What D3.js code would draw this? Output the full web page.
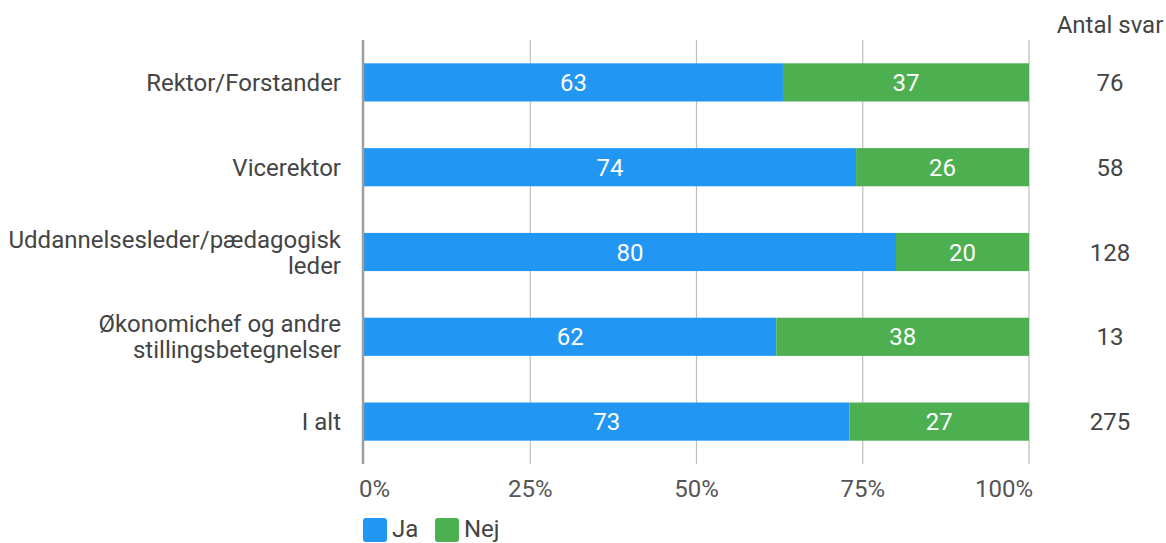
<!DOCTYPE html>
<html>
<head>
<meta charset="utf-8">
<script src="https://cdn.jsdelivr.net/npm/d3@7/dist/d3.min.js"></script>
<style>
  html, body { margin: 0; padding: 0; background: #fff; }
  svg { display: block; font-family: Roboto, "Noto Sans", sans-serif; }
</style>
</head>
<body>
<svg id="chart" width="1166" height="543"></svg>
<script>
// Survey answers per role (percent Ja / Nej) and number of answers
const categories = [
  ["Rektor/Forstander"],
  ["Vicerektor"],
  ["Uddannelsesleder/pædagogisk", "leder"],
  ["Økonomichef og andre", "stillingsbetegnelser"],
  ["I alt"]
];
const jaValues  = [63, 74, 80, 62, 73];
const nejValues = [37, 26, 20, 38, 27];
const antalSvar = [76, 58, 128, 13, 275];
const seriesNames = ["Ja", "Nej"];
const tickValues = [0, 25, 50, 75, 100];
const countHeader = "Antal svar";

const colors = { Ja: "#2196F3", Nej: "#4CAF50" };
const textColor = "#444";
const fontSize = 24;

const svg = d3.select("#chart");
const plotLeft = 364, plotRight = 1029, plotTop = 40, plotBottom = 464;

const keys = categories.map((c, i) => i);
const x = d3.scaleLinear().domain([0, 100]).range([plotLeft, plotRight]);
const y = d3.scaleBand().domain(keys).range([plotTop, plotBottom]).paddingInner(0.55).paddingOuter(0.275);

// gridlines
svg.append("g").selectAll("line")
  .data(tickValues.filter(t => t > 0))
  .join("line")
  .attr("x1", d => x(d)).attr("x2", d => x(d))
  .attr("y1", plotTop).attr("y2", plotBottom)
  .attr("stroke", "#bdbdbd").attr("stroke-width", 1.2);

// stacked bars
const rows = keys.map(i => ({ i, Ja: jaValues[i], Nej: nejValues[i] }));
const stack = d3.stack().keys(seriesNames)(rows);

const layers = svg.append("g").selectAll("g")
  .data(stack).join("g")
  .attr("fill", d => colors[d.key]);

layers.selectAll("rect")
  .data(d => d)
  .join("rect")
  .attr("x", d => x(d[0]))
  .attr("width", d => x(d[1]) - x(d[0]))
  .attr("y", d => y(d.data.i))
  .attr("height", y.bandwidth());

// value labels inside bars
stack.forEach(layer => {
  svg.append("g").selectAll("text")
    .data(layer)
    .join("text")
    .attr("x", d => (x(d[0]) + x(d[1])) / 2)
    .attr("y", d => y(d.data.i) + y.bandwidth() / 2)
    .attr("dy", "0.36em")
    .attr("text-anchor", "middle")
    .attr("fill", "#fff")
    .attr("font-size", fontSize)
    .text(d => d[1] - d[0]);
});

// zero axis line
svg.append("line")
  .attr("x1", 363).attr("x2", 363)
  .attr("y1", plotTop).attr("y2", plotBottom)
  .attr("stroke", "#9e9e9e").attr("stroke-width", 2.5);

// category labels
const lineH = 26;
const catG = svg.append("g").selectAll("text")
  .data(categories)
  .join("text")
  .attr("text-anchor", "end")
  .attr("fill", textColor)
  .attr("font-size", fontSize);
catG.each(function(lines, i) {
  const cy = y(i) + y.bandwidth() / 2;
  const startY = cy - (lines.length - 1) * lineH / 2;
  d3.select(this).selectAll("tspan")
    .data(lines)
    .join("tspan")
    .attr("x", 341)
    .attr("y", (d, j) => startY + j * lineH)
    .attr("dy", "0.36em")
    .text(d => d);
});

// x tick labels
svg.append("g").selectAll("text")
  .data(tickValues)
  .join("text")
  .attr("x", d => x(d))
  .attr("y", 497)
  .attr("text-anchor", (d, i) => i === 0 ? "start" : (i === tickValues.length - 1 ? "end" : "middle"))
  .attr("dx", (d, i) => i === 0 ? -5 : (i === tickValues.length - 1 ? 4 : 0))
  .attr("fill", "#555")
  .attr("font-size", fontSize)
  .text(d => d + "%");

// count column
const countX = 1110;
svg.append("text")
  .attr("x", countX).attr("y", 33)
  .attr("text-anchor", "middle")
  .attr("fill", textColor)
  .attr("font-size", fontSize)
  .text(countHeader);
svg.append("g").selectAll("text")
  .data(antalSvar)
  .join("text")
  .attr("x", countX)
  .attr("y", (d, i) => y(i) + y.bandwidth() / 2)
  .attr("dy", "0.36em")
  .attr("text-anchor", "middle")
  .attr("fill", textColor)
  .attr("font-size", fontSize)
  .text(d => d);

// legend
const legend = svg.append("g").selectAll("g")
  .data(seriesNames)
  .join("g")
  .attr("transform", (d, i) => `translate(${363 + i * 72},518)`);
legend.append("rect")
  .attr("width", 24).attr("height", 24).attr("rx", 3)
  .attr("fill", d => colors[d]);
legend.append("text")
  .attr("x", 29).attr("y", 19)
  .attr("fill", textColor)
  .attr("font-size", fontSize)
  .text(d => d);
</script>
</body>
</html>
